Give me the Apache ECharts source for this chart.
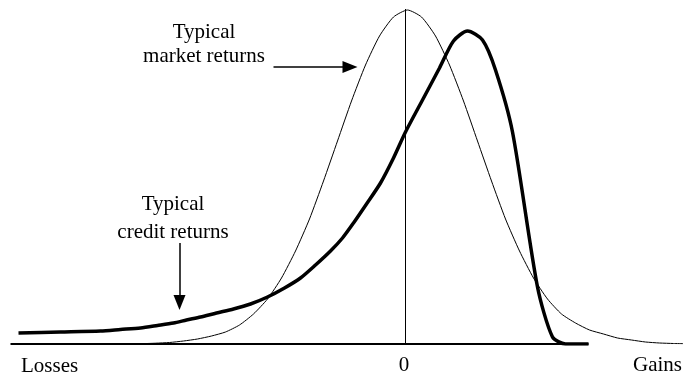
<!DOCTYPE html>
<html lang="en">
<head>
    <meta charset="UTF-8">
    <title>Market vs credit returns</title>
    <script src="https://cdn.jsdelivr.net/npm/echarts@6/dist/echarts.min.js"></script>
</head>
<body style="margin:0;">

<div id="chart_wrap" style="width: 683px; height: 374px;"></div>

<script>
    // x = distance from the zero line, y = height above the baseline
    var marketX = [-264, -250, -236, -222, -208, -194, -180, -166, -152, -138, -124, -110, -96, -82, -68, -54, -40, -26, -12,
        2, 16, 30, 44, 58, 72, 86, 100, 114, 128, 142, 156, 170, 184, 198, 212, 226, 240, 254, 268, 278];
    var marketY = [0.3, 0.8, 1.5, 3, 5, 8, 12, 19, 30, 45, 66, 93, 125, 163, 203, 243, 279, 308, 327,
        334, 327, 308, 279, 243, 203, 163, 125, 93, 66, 45, 30, 21, 14, 10, 6, 4, 2, 1, 0.5, 0.3];

    var creditX = [-387, -345, -305, -285, -265, -248, -232, -219, -205, -189, -172, -155, -138, -121, -105, -90, -75,
        -63, -52, -39, -25, -12, 0, 17, 34, 48, 62, 77, 90, 107, 132, 147, 160, 183];
    var creditY = [11, 12, 13, 14.5, 16, 18.5, 21, 24, 27, 31, 35, 40, 47, 56, 66, 79, 93,
        106, 121, 140, 161, 186, 212, 244, 276, 303, 313, 304, 274, 212, 57, 7, 0, 0];

    var baseX = [-395, 183];
    var zeroLineTop = 335;

    var xLabels = ["Losses", "0", "Gains"];
    var marketLabel = ["Typical", "market returns"];
    var creditLabel = ["Typical", "credit returns"];

    function pairs(xs, ys) {
        var out = [];
        for (var i = 0; i < xs.length; i++) {
            out.push([xs[i], ys[i]]);
        }
        return out;
    }

    var myChart = echarts.init(document.getElementById("chart_wrap"));
    var font = '"Liberation Serif", "Times New Roman", serif';

    function txt(s, x, y, align) {
        return {
            type: 'text', x: x, y: y, silent: true,
            style: {
                text: s, fill: '#000', fontSize: 21, fontFamily: font,
                textAlign: align, textVerticalAlign: 'middle'
            }
        };
    }

    var option = {
        animation: false,
        grid: {left: 0, right: 0, top: 0, bottom: 30},
        // half-pixel offset keeps the 1px zero line crisp
        xAxis: {type: 'value', min: -405.5, max: 277.5, show: false},
        yAxis: {type: 'value', min: 0, max: 344, show: false},
        series: [
            {
                type: 'line', data: pairs(baseX, [0, 0]), showSymbol: false, silent: true,
                lineStyle: {color: '#000', width: 2},
                markLine: {
                    silent: true,
                    symbol: ['none', 'triangle'],
                    symbolSize: [12, 15],
                    label: {show: false},
                    lineStyle: {color: '#000', width: 1.5, type: 'solid'},
                    data: [
                        [{coord: [-132, 277]}, {coord: [-55.5, 277]}],
                        [{coord: [-226, 101]}, {coord: [-226, 41.5]}]
                    ]
                }
            },
            {
                type: 'line', data: [[0, 0], [0, zeroLineTop]], showSymbol: false, silent: true,
                lineStyle: {color: '#000', width: 1}
            },
            {
                type: 'line', data: pairs(marketX, marketY), showSymbol: false, silent: true,
                smooth: 0.2,
                lineStyle: {color: '#000', width: 1}
            },
            {
                type: 'line', data: pairs(creditX, creditY), showSymbol: false, silent: true,
                smooth: 0.25,
                lineStyle: {color: '#000', width: 3.5}
            }
        ],
        graphic: [
            txt(marketLabel[0], 204, 32, 'center'),
            txt(marketLabel[1], 204, 56, 'center'),
            txt(creditLabel[0], 173, 204, 'center'),
            txt(creditLabel[1], 173, 232, 'center'),
            txt(xLabels[0], 21, 366, 'left'),
            txt(xLabels[1], 404, 365, 'center'),
            txt(xLabels[2], 682, 365, 'right')
        ]
    };

    myChart.setOption(option);
</script>
</body>
</html>
